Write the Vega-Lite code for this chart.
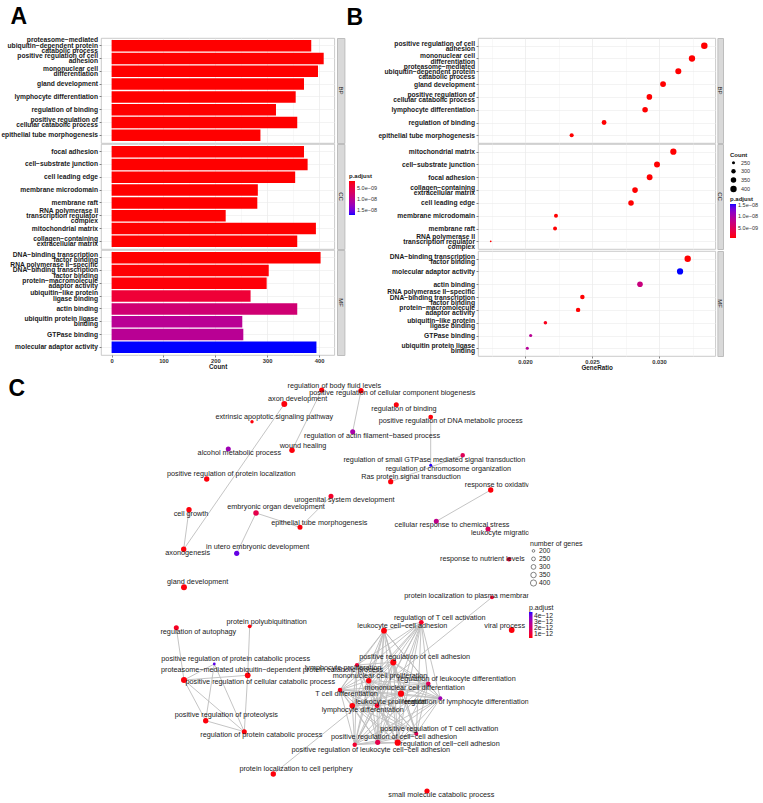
{
"$schema": "https://vega.github.io/schema/vega-lite/v6.json",
"background": "white",
"padding": {"top": 5, "left": 0, "right": 0, "bottom": 0},
"config": {
  "font": "Liberation Sans",
  "view": {"stroke": "#bdbdbd", "strokeWidth": 0.8},
  "axis": {"labelFont": "Liberation Sans", "titleFont": "Liberation Sans"},
  "legend": {"labelFont": "Liberation Sans", "titleFont": "Liberation Sans", "gradientStrokeWidth": 0}
},
"datasets": {
  "go": [
    {"g": "BP", "term": "proteasome−mediated|ubiquitin−dependent protein|catabolic process", "count": 385, "padj": 2.0e-9},
    {"g": "BP", "term": "positive regulation of cell|adhesion", "count": 409, "padj": 2.0e-9},
    {"g": "BP", "term": "mononuclear cell|differentiation", "count": 398, "padj": 2.0e-9},
    {"g": "BP", "term": "gland development", "count": 371, "padj": 2.0e-9},
    {"g": "BP", "term": "lymphocyte differentiation", "count": 355, "padj": 2.0e-9},
    {"g": "BP", "term": "regulation of binding", "count": 317, "padj": 2.0e-9},
    {"g": "BP", "term": "positive regulation of|cellular catabolic process", "count": 358, "padj": 2.0e-9},
    {"g": "BP", "term": "epithelial tube morphogenesis", "count": 287, "padj": 2.0e-9},
    {"g": "CC", "term": "focal adhesion", "count": 371, "padj": 2.0e-9},
    {"g": "CC", "term": "cell−substrate junction", "count": 378, "padj": 2.0e-9},
    {"g": "CC", "term": "cell leading edge", "count": 354, "padj": 2.0e-9},
    {"g": "CC", "term": "membrane microdomain", "count": 282, "padj": 2.0e-9},
    {"g": "CC", "term": "membrane raft", "count": 281, "padj": 2.0e-9},
    {"g": "CC", "term": "RNA polymerase II|transcription regulator|complex", "count": 220, "padj": 2.0e-9},
    {"g": "CC", "term": "mitochondrial matrix", "count": 394, "padj": 2.0e-9},
    {"g": "CC", "term": "collagen−containing|extracellular matrix", "count": 358, "padj": 2.0e-9},
    {"g": "MF", "term": "DNA−binding transcription|factor binding", "count": 403, "padj": 2.0e-9},
    {"g": "MF", "term": "RNA polymerase II−specific|DNA−binding transcription|factor binding", "count": 303, "padj": 2.1e-9},
    {"g": "MF", "term": "protein−macromolecule|adaptor activity", "count": 299, "padj": 2.2e-9},
    {"g": "MF", "term": "ubiquitin−like protein|ligase binding", "count": 268, "padj": 4.3e-9},
    {"g": "MF", "term": "actin binding", "count": 358, "padj": 8.2e-9},
    {"g": "MF", "term": "ubiquitin protein ligase|binding", "count": 252, "padj": 1.05e-8},
    {"g": "MF", "term": "GTPase binding", "count": 254, "padj": 1.05e-8},
    {"g": "MF", "term": "molecular adaptor activity", "count": 395, "padj": 1.745e-8}
  ],
  "dot": [
    {"g": "BP", "term": "positive regulation of cell|adhesion", "ratio": 0.03338, "count": 409, "padj": 7e-10},
    {"g": "BP", "term": "mononuclear cell|differentiation", "ratio": 0.03246, "count": 398, "padj": 7e-10},
    {"g": "BP", "term": "proteasome−mediated|ubiquitin−dependent protein|catabolic process", "ratio": 0.03144, "count": 385, "padj": 7e-10},
    {"g": "BP", "term": "gland development", "ratio": 0.0303, "count": 371, "padj": 7e-10},
    {"g": "BP", "term": "positive regulation of|cellular catabolic process", "ratio": 0.02928, "count": 358, "padj": 7e-10},
    {"g": "BP", "term": "lymphocyte differentiation", "ratio": 0.02896, "count": 355, "padj": 7e-10},
    {"g": "BP", "term": "regulation of binding", "ratio": 0.0259, "count": 317, "padj": 7e-10},
    {"g": "BP", "term": "epithelial tube morphogenesis", "ratio": 0.02348, "count": 287, "padj": 7e-10},
    {"g": "CC", "term": "mitochondrial matrix", "ratio": 0.03107, "count": 394, "padj": 7e-10},
    {"g": "CC", "term": "cell−substrate junction", "ratio": 0.02985, "count": 378, "padj": 7e-10},
    {"g": "CC", "term": "focal adhesion", "ratio": 0.0293, "count": 371, "padj": 7e-10},
    {"g": "CC", "term": "collagen−containing|extracellular matrix", "ratio": 0.02821, "count": 358, "padj": 7e-10},
    {"g": "CC", "term": "cell leading edge", "ratio": 0.02791, "count": 354, "padj": 7e-10},
    {"g": "CC", "term": "membrane microdomain", "ratio": 0.02231, "count": 282, "padj": 7e-10},
    {"g": "CC", "term": "membrane raft", "ratio": 0.02224, "count": 281, "padj": 7e-10},
    {"g": "CC", "term": "RNA polymerase II|transcription regulator|complex", "ratio": 0.01744, "count": 220, "padj": 7e-10},
    {"g": "MF", "term": "DNA−binding transcription|factor binding", "ratio": 0.03214, "count": 403, "padj": 7e-10},
    {"g": "MF", "term": "molecular adaptor activity", "ratio": 0.03157, "count": 395, "padj": 1.53e-8},
    {"g": "MF", "term": "actin binding", "ratio": 0.02858, "count": 358, "padj": 7.3e-9},
    {"g": "MF", "term": "RNA polymerase II−specific|DNA−binding transcription|factor binding", "ratio": 0.02428, "count": 303, "padj": 7e-10},
    {"g": "MF", "term": "protein−macromolecule|adaptor activity", "ratio": 0.02396, "count": 299, "padj": 7e-10},
    {"g": "MF", "term": "ubiquitin−like protein|ligase binding", "ratio": 0.02152, "count": 268, "padj": 1.5e-9},
    {"g": "MF", "term": "GTPase binding", "ratio": 0.02042, "count": 254, "padj": 8.7e-9},
    {"g": "MF", "term": "ubiquitin protein ligase|binding", "ratio": 0.02017, "count": 252, "padj": 9.0e-9}
  ],
  "nodes": [
    {"id": "axd", "label": "axon development", "x": 283.3, "y": 404, "lx": 296.7, "ly": 399, "n": 380, "padj": 3.5e-13},
    {"id": "bfl", "label": "regulation of body fluid levels", "x": 320.7, "y": 390, "lx": 333.3, "ly": 385.7, "n": 330, "padj": 3.5e-13},
    {"id": "ccb", "label": "positive regulation of cellular component biogenesis", "x": 360, "y": 390.7, "lx": 391.3, "ly": 393, "n": 330, "padj": 3.5e-13},
    {"id": "eas", "label": "extrinsic apoptotic signaling pathway", "x": 251, "y": 421.7, "lx": 273.3, "ly": 417, "n": 230, "padj": 3.5e-13},
    {"id": "rob", "label": "regulation of binding", "x": 395.3, "y": 404.7, "lx": 403, "ly": 409, "n": 320, "padj": 3.5e-13},
    {"id": "dna", "label": "positive regulation of DNA metabolic process", "x": 429.7, "y": 417, "lx": 449.7, "ly": 421, "n": 300, "padj": 3.5e-13},
    {"id": "afb", "label": "regulation of actin filament−based process", "x": 351.7, "y": 431.7, "lx": 371, "ly": 436, "n": 320, "padj": 3.1e-12},
    {"id": "wh", "label": "wound healing", "x": 291, "y": 450.3, "lx": 302, "ly": 445.7, "n": 350, "padj": 3.5e-13},
    {"id": "amp", "label": "alcohol metabolic process", "x": 227.3, "y": 449, "lx": 238.3, "ly": 453.3, "n": 320, "padj": 3.3e-12},
    {"id": "gtp", "label": "regulation of small GTPase mediated signal transduction", "x": 461.7, "y": 455.3, "lx": 433.3, "ly": 459.7, "n": 290, "padj": 1.5e-12},
    {"id": "chr", "label": "regulation of chromosome organization", "x": 429.7, "y": 465.3, "lx": 447.3, "ly": 469, "n": 215, "padj": 4.6e-12},
    {"id": "ras", "label": "Ras protein signal transduction", "x": 389.7, "y": 481.7, "lx": 410, "ly": 477, "n": 330, "padj": 3.5e-13},
    {"id": "ppl", "label": "positive regulation of protein localization", "x": 205.7, "y": 479, "lx": 230.3, "ly": 474, "n": 340, "padj": 3.5e-13},
    {"id": "ros", "label": "response to oxidative stress", "x": 489.7, "y": 490, "lx": 508.7, "ly": 485, "n": 340, "padj": 3.5e-13},
    {"id": "uro", "label": "urogenital system development", "x": 330, "y": 496.3, "lx": 343.3, "ly": 500.3, "n": 320, "padj": 7e-13},
    {"id": "cg", "label": "cell growth", "x": 188, "y": 509.7, "lx": 190, "ly": 514, "n": 340, "padj": 3.5e-13},
    {"id": "eod", "label": "embryonic organ development", "x": 255, "y": 513, "lx": 275, "ly": 507.3, "n": 350, "padj": 1.3e-12},
    {"id": "etm", "label": "epithelial tube morphogenesis", "x": 299, "y": 527.3, "lx": 318.3, "ly": 522.7, "n": 320, "padj": 3.5e-13},
    {"id": "crc", "label": "cellular response to chemical stress", "x": 435.3, "y": 521.3, "lx": 451, "ly": 525, "n": 320, "padj": 2.5e-12},
    {"id": "lm", "label": "leukocyte migration", "x": 487, "y": 529, "lx": 501.2, "ly": 533, "n": 320, "padj": 1.6e-12},
    {"id": "axg", "label": "axonogenesis", "x": 182.7, "y": 549.3, "lx": 186.7, "ly": 553.3, "n": 340, "padj": 3.5e-13},
    {"id": "iut", "label": "in utero embryonic development", "x": 235.7, "y": 553.3, "lx": 256.7, "ly": 547.3, "n": 330, "padj": 4.2e-12},
    {"id": "rnl", "label": "response to nutrient levels", "x": 508, "y": 559.3, "lx": 481.3, "ly": 559, "n": 280, "padj": 9e-13},
    {"id": "gd", "label": "gland development", "x": 183, "y": 587.3, "lx": 196.7, "ly": 582.3, "n": 380, "padj": 3.5e-13},
    {"id": "plm", "label": "protein localization to plasma membrane", "x": 491, "y": 597.3, "lx": 468.4, "ly": 596, "n": 250, "padj": 8e-13},
    {"id": "rau", "label": "regulation of autophagy", "x": 175.3, "y": 627.7, "lx": 197.3, "ly": 631.7, "n": 320, "padj": 6e-13},
    {"id": "ppu", "label": "protein polyubiquitination", "x": 248.7, "y": 626.3, "lx": 265.7, "ly": 621.7, "n": 250, "padj": 3.5e-13},
    {"id": "rtc", "label": "regulation of T cell activation", "x": 420.3, "y": 622.3, "lx": 438.7, "ly": 618, "n": 300, "padj": 7e-13},
    {"id": "lca", "label": "leukocyte cell−cell adhesion", "x": 383, "y": 630.7, "lx": 401.3, "ly": 626, "n": 370, "padj": 3.5e-13},
    {"id": "vp", "label": "viral process", "x": 510.7, "y": 630, "lx": 503.7, "ly": 626, "n": 370, "padj": 3.5e-13},
    {"id": "prc", "label": "positive regulation of protein catabolic process", "x": 213.3, "y": 664, "lx": 234.7, "ly": 659, "n": 205, "padj": 4.3e-12},
    {"id": "pud", "label": "proteasome−mediated ubiquitin−dependent protein catabolic process", "x": 183, "y": 680, "lx": 271, "ly": 670, "n": 390, "padj": 3.5e-13},
    {"id": "pcc", "label": "positive regulation of cellular catabolic process", "x": 246.7, "y": 675.3, "lx": 259.3, "ly": 682, "n": 370, "padj": 3.5e-13},
    {"id": "pca", "label": "positive regulation of cell adhesion", "x": 392.3, "y": 662.3, "lx": 413.7, "ly": 657, "n": 400, "padj": 3.5e-13},
    {"id": "lpr", "label": "lymphocyte proliferation", "x": 356, "y": 665, "lx": 342, "ly": 668.3, "n": 270, "padj": 9e-13},
    {"id": "mcp", "label": "mononuclear cell proliferation", "x": 367.7, "y": 680.7, "lx": 379, "ly": 676, "n": 340, "padj": 3.5e-13},
    {"id": "rld", "label": "regulation of leukocyte differentiation", "x": 427.3, "y": 683.7, "lx": 455.7, "ly": 679, "n": 290, "padj": 1.5e-12},
    {"id": "tcd", "label": "T cell differentiation", "x": 339, "y": 690, "lx": 345.5, "ly": 694, "n": 290, "padj": 5e-13},
    {"id": "mcd", "label": "mononuclear cell differentiation", "x": 400, "y": 693.7, "lx": 413.7, "ly": 688, "n": 400, "padj": 3.5e-13},
    {"id": "rlyd", "label": "regulation of lymphocyte differentiation", "x": 439.3, "y": 698.3, "lx": 465.7, "ly": 702, "n": 260, "padj": 3.3e-12},
    {"id": "lkp", "label": "leukocyte proliferation", "x": 376, "y": 705.7, "lx": 389.7, "ly": 702, "n": 300, "padj": 7e-13},
    {"id": "lyd", "label": "lymphocyte differentiation", "x": 351.3, "y": 705.7, "lx": 361.7, "ly": 710, "n": 360, "padj": 3.5e-13},
    {"id": "prt", "label": "positive regulation of T cell activation", "x": 415.3, "y": 733.7, "lx": 438.3, "ly": 729, "n": 260, "padj": 1.4e-12},
    {"id": "pcca", "label": "positive regulation of cell−cell adhesion", "x": 376.7, "y": 742.3, "lx": 393, "ly": 737, "n": 330, "padj": 1.3e-12},
    {"id": "rcca", "label": "regulation of cell−cell adhesion", "x": 396.7, "y": 742.7, "lx": 449, "ly": 744, "n": 400, "padj": 3.5e-13},
    {"id": "plca", "label": "positive regulation of leukocyte cell−cell adhesion", "x": 353.7, "y": 744.7, "lx": 369.8, "ly": 750, "n": 280, "padj": 8e-13},
    {"id": "prp", "label": "positive regulation of proteolysis", "x": 204.7, "y": 720.7, "lx": 225.3, "ly": 715, "n": 340, "padj": 3.5e-13},
    {"id": "rpc", "label": "regulation of protein catabolic process", "x": 243.3, "y": 731.7, "lx": 260.3, "ly": 735, "n": 320, "padj": 3.5e-13},
    {"id": "plcp", "label": "protein localization to cell periphery", "x": 272.3, "y": 774, "lx": 295, "ly": 769, "n": 340, "padj": 3.5e-13},
    {"id": "smc", "label": "small molecule catabolic process", "x": 426, "y": 791, "lx": 440.3, "ly": 795, "n": 330, "padj": 3.5e-13}
  ],
  "edges": [
    {"s": "axd", "t": "axg"}, {"s": "bfl", "t": "wh"}, {"s": "ccb", "t": "afb"}, {"s": "cg", "t": "axg"},
    {"s": "eod", "t": "etm"}, {"s": "eod", "t": "iut"}, {"s": "uro", "t": "etm"}, {"s": "dna", "t": "chr"},
    {"s": "gtp", "t": "ras"}, {"s": "ros", "t": "crc"}, {"s": "plcp", "t": "plm"},
    {"s": "rau", "t": "pud"}, {"s": "ppu", "t": "pcc"}, {"s": "pcc", "t": "rpc"}, {"s": "pud", "t": "prc"},
    {"s": "pud", "t": "pcc"}, {"s": "pud", "t": "prp"}, {"s": "pud", "t": "rpc"}, {"s": "prc", "t": "prp"},
    {"s": "prc", "t": "rpc"}, {"s": "prp", "t": "rpc"},
    {"s": "rtc", "t": "lca"}, {"s": "rtc", "t": "pca"}, {"s": "rtc", "t": "lpr"}, {"s": "rtc", "t": "mcp"}, {"s": "rtc", "t": "rld"}, {"s": "rtc", "t": "tcd"}, {"s": "rtc", "t": "mcd"}, {"s": "rtc", "t": "rlyd"}, {"s": "rtc", "t": "lkp"}, {"s": "rtc", "t": "lyd"}, {"s": "rtc", "t": "prt"}, {"s": "rtc", "t": "pcca"}, {"s": "rtc", "t": "rcca"}, {"s": "rtc", "t": "plca"},
    {"s": "lca", "t": "pca"}, {"s": "lca", "t": "lpr"}, {"s": "lca", "t": "mcp"}, {"s": "lca", "t": "rld"}, {"s": "lca", "t": "tcd"}, {"s": "lca", "t": "mcd"}, {"s": "lca", "t": "rlyd"}, {"s": "lca", "t": "lkp"}, {"s": "lca", "t": "lyd"}, {"s": "lca", "t": "prt"}, {"s": "lca", "t": "pcca"}, {"s": "lca", "t": "rcca"}, {"s": "lca", "t": "plca"},
    {"s": "pca", "t": "lpr"}, {"s": "pca", "t": "mcp"}, {"s": "pca", "t": "rld"}, {"s": "pca", "t": "tcd"}, {"s": "pca", "t": "mcd"}, {"s": "pca", "t": "rlyd"}, {"s": "pca", "t": "lkp"}, {"s": "pca", "t": "lyd"}, {"s": "pca", "t": "prt"}, {"s": "pca", "t": "pcca"}, {"s": "pca", "t": "rcca"}, {"s": "pca", "t": "plca"},
    {"s": "lpr", "t": "mcp"}, {"s": "lpr", "t": "rld"}, {"s": "lpr", "t": "tcd"}, {"s": "lpr", "t": "mcd"}, {"s": "lpr", "t": "rlyd"}, {"s": "lpr", "t": "lkp"}, {"s": "lpr", "t": "lyd"}, {"s": "lpr", "t": "prt"}, {"s": "lpr", "t": "pcca"}, {"s": "lpr", "t": "rcca"}, {"s": "lpr", "t": "plca"},
    {"s": "mcp", "t": "rld"}, {"s": "mcp", "t": "tcd"}, {"s": "mcp", "t": "mcd"}, {"s": "mcp", "t": "rlyd"}, {"s": "mcp", "t": "lkp"}, {"s": "mcp", "t": "lyd"}, {"s": "mcp", "t": "prt"}, {"s": "mcp", "t": "pcca"}, {"s": "mcp", "t": "rcca"}, {"s": "mcp", "t": "plca"},
    {"s": "rld", "t": "tcd"}, {"s": "rld", "t": "mcd"}, {"s": "rld", "t": "rlyd"}, {"s": "rld", "t": "lkp"}, {"s": "rld", "t": "lyd"}, {"s": "rld", "t": "prt"}, {"s": "rld", "t": "pcca"}, {"s": "rld", "t": "rcca"}, {"s": "rld", "t": "plca"},
    {"s": "tcd", "t": "mcd"}, {"s": "tcd", "t": "rlyd"}, {"s": "tcd", "t": "lkp"}, {"s": "tcd", "t": "lyd"}, {"s": "tcd", "t": "prt"}, {"s": "tcd", "t": "pcca"}, {"s": "tcd", "t": "rcca"}, {"s": "tcd", "t": "plca"},
    {"s": "mcd", "t": "rlyd"}, {"s": "mcd", "t": "lkp"}, {"s": "mcd", "t": "lyd"}, {"s": "mcd", "t": "prt"}, {"s": "mcd", "t": "pcca"}, {"s": "mcd", "t": "rcca"}, {"s": "mcd", "t": "plca"},
    {"s": "rlyd", "t": "lkp"}, {"s": "rlyd", "t": "lyd"}, {"s": "rlyd", "t": "prt"}, {"s": "rlyd", "t": "pcca"}, {"s": "rlyd", "t": "rcca"}, {"s": "rlyd", "t": "plca"},
    {"s": "lkp", "t": "lyd"}, {"s": "lkp", "t": "prt"}, {"s": "lkp", "t": "pcca"}, {"s": "lkp", "t": "rcca"}, {"s": "lkp", "t": "plca"},
    {"s": "lyd", "t": "prt"}, {"s": "lyd", "t": "pcca"}, {"s": "lyd", "t": "rcca"}, {"s": "lyd", "t": "plca"},
    {"s": "prt", "t": "pcca"}, {"s": "prt", "t": "rcca"}, {"s": "prt", "t": "plca"},
    {"s": "pcca", "t": "rcca"}, {"s": "pcca", "t": "plca"}, {"s": "rcca", "t": "plca"}
  ]
},
"spacing": 5,
"resolve": {"scale": {"x": "independent", "y": "independent", "color": "independent", "size": "independent"}},
"vconcat": [
  {
    "spacing": -32,
    "resolve": {"scale": {"x": "independent", "y": "independent", "color": "independent", "size": "independent"}},
    "hconcat": [
      {
        "title": {"text": "A", "anchor": "start", "fontSize": 23, "fontWeight": "bold", "color": "black", "dx": 10, "offset": 8},
        "spacing": -1.5,
        "resolve": {"scale": {"y": "independent"}},
        "vconcat": [
          {"spacing": 1, "hconcat": [
            {"width": 233.3, "height": 105, "data": {"name": "go"}, "transform": [{"filter": "datum.g === 'BP'"}],
             "mark": {"type": "bar"},
             "encoding": {
               "y": {"field": "term", "type": "nominal", "sort": null, "scale": {"paddingInner": 0.1, "paddingOuter": 0.15},
                     "axis": {"title": null, "labelExpr": "split(datum.label, '|')", "labelOffset": {"condition": [{"test": "length(split(datum.label, '|')) == 3", "value": -5.2}, {"test": "length(split(datum.label, '|')) == 2", "value": -2.6}], "value": 0}, "labelFontSize": 6.7, "labelFontWeight": "bold", "labelColor": "#1a1a1a", "labelLineHeight": 5.2, "labelPadding": 1.5, "labelLimit": 300, "tickSize": 2, "tickColor": "#333", "tickWidth": 0.6, "domain": false, "grid": true, "gridColor": "#ebebeb", "gridWidth": 0.6, "bandPosition": 0.5, "minExtent": 100, "maxExtent": 100}},
               "x": {"field": "count", "type": "quantitative", "scale": {"domain": [-20.45, 429.45], "nice": false, "zero": false},
                     "axis": {"title": null, "values": [0, 50, 100, 150, 200, 250, 300, 350, 400], "labels": false, "ticks": false, "domain": false, "grid": true, "gridWidth": 0.6, "gridColor": {"condition": {"test": "datum.value % 100 === 0", "value": "#e6e6e6"}, "value": "#f3f3f3"}}},
               "x2": {"datum": 0},
               "color": {"field": "padj", "type": "quantitative", "scale": {"domain": [1.745e-8, 2.0e-9], "range": ["#0000ff", "#ff0000"], "interpolate": "lab", "nice": false, "zero": false},
                         "legend": {"title": "p.adjust", "orient": "none", "legendX": 248, "legendY": 135, "gradientLength": 34, "gradientThickness": 6, "values": [5e-9, 1e-8, 1.5e-8], "labelExpr": "datum.value == 5e-9 ? '5.0e−09' : datum.value == 1e-8 ? '1.0e−08' : '1.5e−08'", "titleFontSize": 6, "titleFontWeight": "bold", "titleColor": "#1a1a1a", "labelFontSize": 5.5, "labelColor": "#333", "titlePadding": 2, "labelOffset": 2, "labelOverlap": false}}
             }},
            {"width": 7.4, "height": 105, "view": {"fill": "#d9d9d9", "stroke": "#bdbdbd"}, "data": {"values": [{"s": "BP"}]},
             "mark": {"type": "text", "angle": 90, "fontSize": 6, "color": "#1a1a1a"}, "encoding": {"text": {"field": "s"}}}
          ]},
          {"spacing": 1, "hconcat": [
            {"width": 233.3, "height": 105, "data": {"name": "go"}, "transform": [{"filter": "datum.g === 'CC'"}],
             "mark": {"type": "bar"},
             "encoding": {
               "y": {"field": "term", "type": "nominal", "sort": null, "scale": {"paddingInner": 0.1, "paddingOuter": 0.15},
                     "axis": {"title": null, "labelExpr": "split(datum.label, '|')", "labelOffset": {"condition": [{"test": "length(split(datum.label, '|')) == 3", "value": -5.2}, {"test": "length(split(datum.label, '|')) == 2", "value": -2.6}], "value": 0}, "labelFontSize": 6.7, "labelFontWeight": "bold", "labelColor": "#1a1a1a", "labelLineHeight": 5.2, "labelPadding": 1.5, "labelLimit": 300, "tickSize": 2, "tickColor": "#333", "tickWidth": 0.6, "domain": false, "grid": true, "gridColor": "#ebebeb", "gridWidth": 0.6, "bandPosition": 0.5, "minExtent": 100, "maxExtent": 100}},
               "x": {"field": "count", "type": "quantitative", "scale": {"domain": [-20.45, 429.45], "nice": false, "zero": false},
                     "axis": {"title": null, "values": [0, 50, 100, 150, 200, 250, 300, 350, 400], "labels": false, "ticks": false, "domain": false, "grid": true, "gridWidth": 0.6, "gridColor": {"condition": {"test": "datum.value % 100 === 0", "value": "#e6e6e6"}, "value": "#f3f3f3"}}},
               "x2": {"datum": 0},
               "color": {"field": "padj", "type": "quantitative"}
             }},
            {"width": 7.4, "height": 105, "view": {"fill": "#d9d9d9", "stroke": "#bdbdbd"}, "data": {"values": [{"s": "CC"}]},
             "mark": {"type": "text", "angle": 90, "fontSize": 6, "color": "#1a1a1a"}, "encoding": {"text": {"field": "s"}}}
          ]},
          {"spacing": 1, "hconcat": [
            {"width": 233.3, "height": 105, "data": {"name": "go"}, "transform": [{"filter": "datum.g === 'MF'"}],
             "mark": {"type": "bar"},
             "encoding": {
               "y": {"field": "term", "type": "nominal", "sort": null, "scale": {"paddingInner": 0.1, "paddingOuter": 0.15},
                     "axis": {"title": null, "labelExpr": "split(datum.label, '|')", "labelOffset": {"condition": [{"test": "length(split(datum.label, '|')) == 3", "value": -5.2}, {"test": "length(split(datum.label, '|')) == 2", "value": -2.6}], "value": 0}, "labelFontSize": 6.7, "labelFontWeight": "bold", "labelColor": "#1a1a1a", "labelLineHeight": 5.2, "labelPadding": 1.5, "labelLimit": 300, "tickSize": 2, "tickColor": "#333", "tickWidth": 0.6, "domain": false, "grid": true, "gridColor": "#ebebeb", "gridWidth": 0.6, "bandPosition": 0.5, "minExtent": 100, "maxExtent": 100}},
               "x": {"field": "count", "type": "quantitative", "scale": {"domain": [-20.45, 429.45], "nice": false, "zero": false},
                     "axis": {"title": "Count", "format": "d", "values": [0, 50, 100, 150, 200, 250, 300, 350, 400], "labelExpr": "datum.value % 100 === 0 ? datum.label : ''", "labelFontSize": 5.8, "labelFontWeight": "bold", "labelColor": "#333", "labelPadding": 0.5, "labelFlush": false, "tickSize": 2, "tickWidth": 0.6, "tickColor": {"condition": {"test": "datum.value % 100 === 0", "value": "#333"}, "value": "rgba(0,0,0,0)"}, "domain": false, "grid": true, "gridWidth": 0.6, "gridColor": {"condition": {"test": "datum.value % 100 === 0", "value": "#e6e6e6"}, "value": "#f3f3f3"}, "titleFontSize": 6.3, "titleFontWeight": "bold", "titleColor": "#1a1a1a", "titlePadding": 0}},
               "x2": {"datum": 0},
               "color": {"field": "padj", "type": "quantitative"}
             }},
            {"width": 7.4, "height": 105, "view": {"fill": "#d9d9d9", "stroke": "#bdbdbd"}, "data": {"values": [{"s": "MF"}]},
             "mark": {"type": "text", "angle": 90, "fontSize": 6, "color": "#1a1a1a"}, "encoding": {"text": {"field": "s"}}}
          ]}
        ]
      },
      {
        "title": {"text": "B", "anchor": "start", "fontSize": 23, "fontWeight": "bold", "color": "black", "dx": -31, "offset": 8},
        "spacing": -1.5,
        "resolve": {"scale": {"y": "independent"}},
        "vconcat": [
          {"spacing": 0.4, "hconcat": [
            {"width": 237.3, "height": 105, "data": {"name": "dot"}, "transform": [{"filter": "datum.g === 'BP'"}],
             "mark": {"type": "point", "filled": true, "opacity": 1},
             "encoding": {
               "y": {"field": "term", "type": "nominal", "sort": null, "scale": {"type": "point", "padding": 0.6},
                     "axis": {"title": null, "labelExpr": "split(datum.label, '|')", "labelOffset": {"condition": [{"test": "length(split(datum.label, '|')) == 3", "value": -5.2}, {"test": "length(split(datum.label, '|')) == 2", "value": -2.6}], "value": 0}, "labelFontSize": 6.7, "labelFontWeight": "bold", "labelColor": "#1a1a1a", "labelLineHeight": 5.2, "labelPadding": 1.5, "labelLimit": 300, "tickSize": 2, "tickColor": "#333", "tickWidth": 0.6, "domain": false, "grid": true, "gridColor": "#ebebeb", "gridWidth": 0.6, "minExtent": 98, "maxExtent": 98}},
               "x": {"field": "ratio", "type": "quantitative", "scale": {"domain": [0.01649, 0.0342], "nice": false, "zero": false},
                     "axis": {"title": null, "values": [0.0175, 0.02, 0.0225, 0.025, 0.0275, 0.03, 0.0325], "labels": false, "ticks": false, "domain": false, "grid": true, "gridWidth": 0.6, "gridColor": {"condition": {"test": "round(datum.value * 10000) % 50 === 0", "value": "#e6e6e6"}, "value": "#f3f3f3"}}},
               "size": {"field": "count", "type": "quantitative", "scale": {"domain": [220, 409], "range": [3, 42], "zero": false},
                        "legend": {"title": "Count", "orient": "none", "legendX": 252, "legendY": 114, "values": [250, 300, 350, 400], "symbolType": "circle", "symbolFillColor": "black", "symbolStrokeColor": "black", "symbolStrokeWidth": 0, "titleFontSize": 6, "titleFontWeight": "bold", "titleColor": "#1a1a1a", "labelFontSize": 5.5, "labelColor": "#333", "rowPadding": 1.5, "titlePadding": 2, "labelOffset": 4}},
               "color": {"field": "padj", "type": "quantitative", "scale": {"domain": [6.7e-10, 1.53e-8], "range": ["#ff0000", "#0000ff"], "interpolate": "lab", "nice": false, "zero": false},
                         "legend": {"title": "p.adjust", "orient": "none", "legendX": 252, "legendY": 158, "gradientLength": 34, "gradientThickness": 6, "values": [5e-9, 1e-8, 1.5e-8], "labelExpr": "datum.value == 5e-9 ? '5.0e−09' : datum.value == 1e-8 ? '1.0e−08' : '1.5e−08'", "titleFontSize": 6, "titleFontWeight": "bold", "titleColor": "#1a1a1a", "labelFontSize": 5.5, "labelColor": "#333", "titlePadding": 2, "labelOffset": 2, "labelOverlap": false}}
             }},
            {"width": 5.6, "height": 105, "view": {"fill": "#d9d9d9", "stroke": "#bdbdbd"}, "data": {"values": [{"s": "BP"}]},
             "mark": {"type": "text", "angle": 90, "fontSize": 6, "color": "#1a1a1a"}, "encoding": {"text": {"field": "s"}}}
          ]},
          {"spacing": 0.4, "hconcat": [
            {"width": 237.3, "height": 105, "data": {"name": "dot"}, "transform": [{"filter": "datum.g === 'CC'"}],
             "mark": {"type": "point", "filled": true, "opacity": 1},
             "encoding": {
               "y": {"field": "term", "type": "nominal", "sort": null, "scale": {"type": "point", "padding": 0.6},
                     "axis": {"title": null, "labelExpr": "split(datum.label, '|')", "labelOffset": {"condition": [{"test": "length(split(datum.label, '|')) == 3", "value": -5.2}, {"test": "length(split(datum.label, '|')) == 2", "value": -2.6}], "value": 0}, "labelFontSize": 6.7, "labelFontWeight": "bold", "labelColor": "#1a1a1a", "labelLineHeight": 5.2, "labelPadding": 1.5, "labelLimit": 300, "tickSize": 2, "tickColor": "#333", "tickWidth": 0.6, "domain": false, "grid": true, "gridColor": "#ebebeb", "gridWidth": 0.6, "minExtent": 98, "maxExtent": 98}},
               "x": {"field": "ratio", "type": "quantitative", "scale": {"domain": [0.01649, 0.0342], "nice": false, "zero": false},
                     "axis": {"title": null, "values": [0.0175, 0.02, 0.0225, 0.025, 0.0275, 0.03, 0.0325], "labels": false, "ticks": false, "domain": false, "grid": true, "gridWidth": 0.6, "gridColor": {"condition": {"test": "round(datum.value * 10000) % 50 === 0", "value": "#e6e6e6"}, "value": "#f3f3f3"}}},
               "size": {"field": "count", "type": "quantitative"},
               "color": {"field": "padj", "type": "quantitative"}
             }},
            {"width": 5.6, "height": 105, "view": {"fill": "#d9d9d9", "stroke": "#bdbdbd"}, "data": {"values": [{"s": "CC"}]},
             "mark": {"type": "text", "angle": 90, "fontSize": 6, "color": "#1a1a1a"}, "encoding": {"text": {"field": "s"}}}
          ]},
          {"spacing": 0.4, "hconcat": [
            {"width": 237.3, "height": 105, "data": {"name": "dot"}, "transform": [{"filter": "datum.g === 'MF'"}],
             "mark": {"type": "point", "filled": true, "opacity": 1},
             "encoding": {
               "y": {"field": "term", "type": "nominal", "sort": null, "scale": {"type": "point", "padding": 0.6},
                     "axis": {"title": null, "labelExpr": "split(datum.label, '|')", "labelOffset": {"condition": [{"test": "length(split(datum.label, '|')) == 3", "value": -5.2}, {"test": "length(split(datum.label, '|')) == 2", "value": -2.6}], "value": 0}, "labelFontSize": 6.7, "labelFontWeight": "bold", "labelColor": "#1a1a1a", "labelLineHeight": 5.2, "labelPadding": 1.5, "labelLimit": 300, "tickSize": 2, "tickColor": "#333", "tickWidth": 0.6, "domain": false, "grid": true, "gridColor": "#ebebeb", "gridWidth": 0.6, "minExtent": 98, "maxExtent": 98}},
               "x": {"field": "ratio", "type": "quantitative", "scale": {"domain": [0.01649, 0.0342], "nice": false, "zero": false},
                     "axis": {"title": "GeneRatio", "format": ".3f", "values": [0.0175, 0.02, 0.0225, 0.025, 0.0275, 0.03, 0.0325], "labelExpr": "round(datum.value * 10000) % 50 === 0 ? datum.label : ''", "labelFontSize": 5.8, "labelFontWeight": "bold", "labelColor": "#333", "labelPadding": 0.5, "labelFlush": false, "tickSize": 2, "tickWidth": 0.6, "tickColor": {"condition": {"test": "round(datum.value * 10000) % 50 === 0", "value": "#333"}, "value": "rgba(0,0,0,0)"}, "domain": false, "grid": true, "gridWidth": 0.6, "gridColor": {"condition": {"test": "round(datum.value * 10000) % 50 === 0", "value": "#e6e6e6"}, "value": "#f3f3f3"}, "titleFontSize": 6.3, "titleFontWeight": "bold", "titleColor": "#1a1a1a", "titlePadding": 0}},
               "size": {"field": "count", "type": "quantitative"},
               "color": {"field": "padj", "type": "quantitative"}
             }},
            {"width": 5.6, "height": 105, "view": {"fill": "#d9d9d9", "stroke": "#bdbdbd"}, "data": {"values": [{"s": "MF"}]},
             "mark": {"type": "text", "angle": 90, "fontSize": 6, "color": "#1a1a1a"}, "encoding": {"text": {"field": "s"}}}
          ]}
        ]
      }
    ]
  },
  {
    "width": 427.5, "height": 427,
    "view": {"stroke": null},
    "layer": [
      {"data": {"name": "edges"},
       "transform": [
         {"lookup": "s", "from": {"data": {"name": "nodes"}, "key": "id", "fields": ["x", "y"]}, "as": ["x1", "y1"]},
         {"lookup": "t", "from": {"data": {"name": "nodes"}, "key": "id", "fields": ["x", "y"]}, "as": ["x2", "y2"]}
       ],
       "mark": {"type": "rule", "color": "#bdbdbd", "strokeWidth": 0.9},
       "encoding": {
         "x": {"field": "x1", "type": "quantitative", "scale": {"domain": [100, 527.5], "nice": false, "zero": false}, "axis": null},
         "y": {"field": "y1", "type": "quantitative", "scale": {"domain": [376, 803], "nice": false, "zero": false, "reverse": true},
               "axis": {"title": "C", "titleAngle": 0, "titleAlign": "left", "titleBaseline": "top", "titleX": -93, "titleY": 1, "titleFontSize": 23, "titleFontWeight": "bold", "titleColor": "black", "labels": false, "ticks": false, "domain": false, "grid": false}},
         "x2": {"field": "x2"},
         "y2": {"field": "y2"}
       }},
      {"data": {"name": "nodes"},
       "mark": {"type": "point", "filled": true, "opacity": 1},
       "encoding": {
         "x": {"field": "x", "type": "quantitative"},
         "y": {"field": "y", "type": "quantitative"},
         "size": {"field": "n", "type": "quantitative", "scale": {"domain": [200, 400], "range": [7, 38], "zero": false},
                  "legend": {"title": "number of genes", "orient": "none", "legendX": 429, "legendY": 163.5, "values": [200, 250, 300, 350, 400], "symbolType": "circle", "symbolFillColor": "rgba(0,0,0,0)", "symbolStrokeColor": "#333", "symbolStrokeWidth": 0.6, "titleFontSize": 7, "titleFontWeight": "normal", "titleColor": "#1a1a1a", "labelFontSize": 6.8, "labelColor": "#1a1a1a", "rowPadding": -1, "titlePadding": 1, "labelOffset": 2}},
         "color": {"field": "padj", "type": "quantitative", "scale": {"domain": [2.7e-13, 4.68e-12], "range": ["#ff0000", "#0000ff"], "interpolate": "lab", "nice": false, "zero": false},
                   "legend": {"title": "p.adjust", "orient": "none", "legendX": 428, "legendY": 228, "gradientLength": 26, "gradientThickness": 3.5, "values": [1e-12, 2e-12, 3e-12, 4e-12], "labelExpr": "datum.value == 1e-12 ? '1e−12' : datum.value == 2e-12 ? '2e−12' : datum.value == 3e-12 ? '3e−12' : '4e−12'", "titleFontSize": 7, "titleFontWeight": "normal", "titleColor": "#1a1a1a", "labelFontSize": 6.8, "labelColor": "#1a1a1a", "titlePadding": 1, "labelOffset": 1.5, "labelOverlap": false}}
       }},
      {"data": {"name": "nodes"},
       "mark": {"type": "text", "fontSize": 7.25, "color": "#1a1a1a", "clip": true},
       "encoding": {
         "x": {"field": "lx", "type": "quantitative"},
         "y": {"field": "ly", "type": "quantitative"},
         "text": {"field": "label"}
       }}
    ]
  }
]
}
